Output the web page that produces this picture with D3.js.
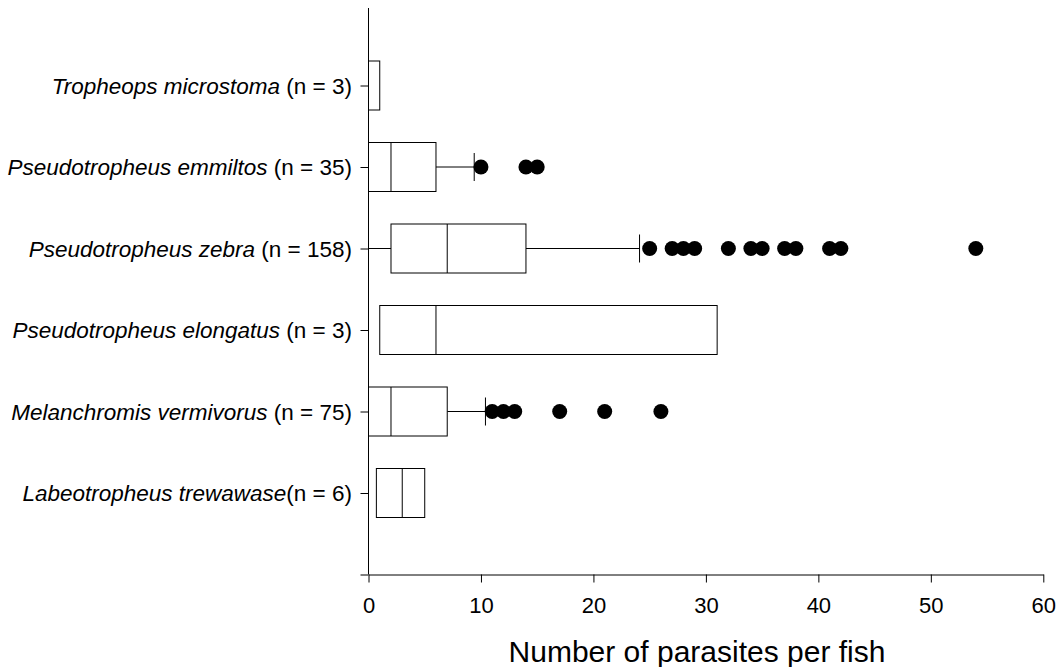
<!DOCTYPE html>
<html>
<head>
<meta charset="utf-8">
<script src="https://cdn.jsdelivr.net/npm/d3@7"></script>
<style>
  body { margin: 0; background: #fff; }
  svg { font-family: "Liberation Sans", Arial, sans-serif; }
</style>
</head>
<body>
<svg id="chart" width="1064" height="667"></svg>
<script>
// species names (italic) and sample sizes, top to bottom
var species = ['Tropheops microstoma', 'Pseudotropheus emmiltos', 'Pseudotropheus zebra',
               'Pseudotropheus elongatus', 'Melanchromis vermivorus', 'Labeotropheus trewawase'];
var nLabels = [' (n = 3)', ' (n = 35)', ' (n = 158)', ' (n = 3)', ' (n = 75)', '(n = 6)'];

// box stats
var q1      = [0, 0, 2, 1, 0, 0.7];
var medians = [0, 2, 7, 6, 2, 3];
var q3      = [1, 6, 14, 31, 7, 5];
var whiskerLow  = [null, null, 0, null, null, null];
var whiskerHigh = [null, 9.4, 24.1, null, 10.4, null];

var outliers = [
    [],
    [10, 14, 15],
    [25, 27, 28, 29, 32, 34, 35, 37, 38, 41, 42, 54],
    [],
    [11, 12, 13, 17, 21, 26],
    []
];

var xTicks = [0, 10, 20, 30, 40, 50, 60];

var svg = d3.select('#chart');

var x = d3.scaleLinear().domain([0, 60]).range([368.5, 1043.3]);
var y = d3.scaleLinear().domain([0, 7]).range([4, 574.5]);

var boxH = 49;
var capH = 28;

// x axis
var xAxisG = svg.append('g')
    .attr('transform', 'translate(0,' + y(7) + ')')
    .call(d3.axisBottom(x).tickValues(xTicks).tickSize(8).tickSizeOuter(0).tickPadding(15));
xAxisG.attr('font-family', null).attr('font-size', null);
xAxisG.selectAll('text').attr('font-size', 22).attr('fill', '#000');

// y axis: ticks only, labels drawn separately
var yAxisG = svg.append('g')
    .attr('transform', 'translate(' + x(0) + ',0)')
    .call(d3.axisLeft(y).tickValues([1, 2, 3, 4, 5, 6, 7]).tickSize(8).tickFormat(''));
yAxisG.select('.domain').remove();

svg.append('line')
    .attr('x1', x(0)).attr('x2', x(0))
    .attr('y1', 8).attr('y2', y(7))
    .attr('stroke', '#000');

var labels = svg.append('g').selectAll('text')
    .data(species)
    .enter()
    .append('text')
    .attr('x', 352)
    .attr('y', function (d, i) { return y(i + 1) + 8; })
    .attr('text-anchor', 'end')
    .attr('font-size', 22.5)
    .attr('fill', '#000');
labels.append('tspan').attr('font-style', 'italic').text(function (d) { return d; });
labels.append('tspan').text(function (d, i) { return nLabels[i]; });

// boxes
var rows = svg.append('g').selectAll('g')
    .data(species)
    .enter()
    .append('g')
    .attr('transform', function (d, i) { return 'translate(0,' + y(i + 1) + ')'; });

// whiskers
rows.each(function (d, i) {
    var g = d3.select(this);
    if (whiskerHigh[i] != null) {
        g.append('line')
            .attr('x1', x(q3[i])).attr('x2', x(whiskerHigh[i]))
            .attr('y1', 0).attr('y2', 0).attr('stroke', '#000');
        g.append('line')
            .attr('x1', x(whiskerHigh[i])).attr('x2', x(whiskerHigh[i]))
            .attr('y1', -capH / 2).attr('y2', capH / 2).attr('stroke', '#000');
    }
    if (whiskerLow[i] != null) {
        g.append('line')
            .attr('x1', x(whiskerLow[i])).attr('x2', x(q1[i]))
            .attr('y1', 0).attr('y2', 0).attr('stroke', '#000');
    }
});

rows.append('rect')
    .attr('x', function (d, i) { return x(q1[i]); })
    .attr('y', -boxH / 2)
    .attr('width', function (d, i) { return x(q3[i]) - x(q1[i]); })
    .attr('height', boxH)
    .attr('fill', '#fff')
    .attr('stroke', '#000');

rows.append('line')
    .attr('x1', function (d, i) { return x(medians[i]); })
    .attr('x2', function (d, i) { return x(medians[i]); })
    .attr('y1', -boxH / 2).attr('y2', boxH / 2)
    .attr('stroke', '#000');

rows.selectAll('circle')
    .data(function (d, i) { return outliers[i]; })
    .enter()
    .append('circle')
    .attr('cx', function (v) { return x(v); })
    .attr('cy', 0)
    .attr('r', 7.5)
    .attr('fill', '#000');

// axis title
svg.append('text')
    .attr('x', 697)
    .attr('y', 662)
    .attr('text-anchor', 'middle')
    .attr('font-size', 30)
    .attr('fill', '#000')
    .text('Number of parasites per fish');
</script>
</body>
</html>
